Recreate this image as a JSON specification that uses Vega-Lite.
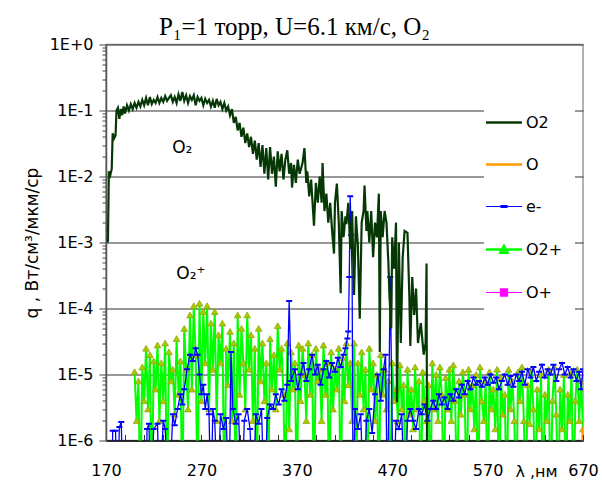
{
"$schema": "https://vega.github.io/schema/vega-lite/v6.json",
"width": 477, "height": 396,
"autosize": "none",
"padding": {"left": 106, "top": 44.5, "right": 19, "bottom": 40.5},
"background": "white",
"title": {"text": "P₁=1 торр, U=6.1 км/с, O₂", "font": "Liberation Serif", "fontSize": 25, "fontWeight": "normal", "color": "black", "anchor": "middle", "frame": "group", "dx": -50, "dy": 34, "baseline": "alphabetic", "offset": 11},
"config": {"view": {"stroke": "#999999", "strokeWidth": 1.5}},
"encoding": {
  "x": {"field": "x", "type": "quantitative", "scale": {"domain": [170, 670], "nice": false, "zero": false},
    "axis": {"values": [170,190,210,230,250,270,290,310,330,350,370,390,410,430,450,470,490,510,530,550,570,590,610,630,650,670],
      "labelExpr": "(datum.value - 170) % 100 === 0 ? datum.label : ''", "labelOverlap": false, "labelFlush": false,
      "labelFont": "DejaVu Sans", "labelFontSize": 16, "labelColor": "black", "labelPadding": 28,
      "tickSize": -6, "tickColor": "#333", "domainColor": "#111", "domainWidth": 1.5, "grid": false,
      "title": "λ ,нм", "titleFont": "DejaVu Sans", "titleFontSize": 16, "titleFontWeight": "normal", "titleColor": "black",
      "titleX": 430, "titleY": 36, "titleAlign": "center", "titleBaseline": "alphabetic"}},
  "y": {"field": "y", "type": "quantitative", "scale": {"type": "log", "domain": [1e-6, 1], "nice": false},
    "axis": {"values": [1e-6,2e-6,3e-6,4e-6,5e-6,6e-6,7e-6,8e-6,9e-6,1e-5,2e-5,3e-5,4e-5,5e-5,6e-5,7e-5,8e-5,9e-5,1e-4,2e-4,3e-4,4e-4,5e-4,6e-4,7e-4,8e-4,9e-4,1e-3,2e-3,3e-3,4e-3,5e-3,6e-3,7e-3,8e-3,9e-3,1e-2,2e-2,3e-2,4e-2,5e-2,6e-2,7e-2,8e-2,9e-2,1e-1,2e-1,3e-1,4e-1,5e-1,6e-1,7e-1,8e-1,9e-1,1],
      "labelExpr": "abs(log(datum.value)/LN10 - round(log(datum.value)/LN10)) < 0.001 ? '1E' + (round(log(datum.value)/LN10) >= 0 ? '+' : '') + round(log(datum.value)/LN10) : ''",
      "labelOverlap": false, "labelFlush": false,
      "labelFont": "DejaVu Sans", "labelFontSize": 16, "labelColor": "black", "labelPadding": 6,
      "tickSize": {"condition": {"test": "abs(log(datum.value)/LN10 - round(log(datum.value)/LN10)) < 0.001", "value": 7}, "value": 4},
      "tickColor": "#444", "domainColor": "#555", "domainWidth": 1.5,
      "grid": true, "gridColor": "#333", "gridWidth": 1.2,
      "gridOpacity": {"condition": {"test": "abs(log(datum.value)/LN10 - round(log(datum.value)/LN10)) < 0.001", "value": 1}, "value": 0},
      "title": "q , Вт/см³/мкм/ср", "titleFont": "DejaVu Sans", "titleFontSize": 17, "titleFontWeight": "normal", "titleColor": "black", "titlePadding": 8}}
},
"layer": [
  {"data": {"values": [
    {"x":200,"y":1.1e-5},{"x":202,"y":2e-6},{"x":204,"y":8e-6},{"x":206,"y":1e-7},{"x":208,"y":1.3e-5},{"x":210,"y":4e-6},{"x":212,"y":2.5e-5},{"x":214,"y":3e-6},{"x":216,"y":2e-5},{"x":218,"y":1e-7},
    {"x":220,"y":1.6e-5},{"x":222,"y":6e-6},{"x":224,"y":2.8e-5},{"x":226,"y":2e-6},{"x":228,"y":1.5e-5},{"x":230,"y":4e-6},{"x":232,"y":3e-5},{"x":234,"y":1e-7},{"x":236,"y":2.2e-5},{"x":238,"y":8e-6},
    {"x":240,"y":1.2e-5},{"x":242,"y":2.5e-6},{"x":244,"y":3.5e-5},{"x":246,"y":5e-6},{"x":248,"y":1.6e-5},{"x":250,"y":1e-7},{"x":252,"y":5e-5},{"x":254,"y":1.2e-5},{"x":256,"y":3e-6},{"x":258,"y":8e-5},
    {"x":260,"y":6e-6},{"x":262,"y":1.1e-4},{"x":264,"y":2e-5},{"x":266,"y":1e-7},{"x":268,"y":1.2e-4},{"x":270,"y":4e-6},{"x":272,"y":9e-5},{"x":274,"y":1.5e-5},{"x":276,"y":1.1e-4},{"x":278,"y":3e-6},
    {"x":280,"y":6e-5},{"x":282,"y":1.2e-5},{"x":284,"y":9e-5},{"x":286,"y":2e-6},{"x":288,"y":4e-5},{"x":290,"y":1.5e-5},{"x":292,"y":6e-5},{"x":294,"y":1e-7},{"x":296,"y":2.5e-5},{"x":298,"y":7e-6},
    {"x":300,"y":4.5e-5},{"x":302,"y":2e-6},{"x":304,"y":3e-5},{"x":306,"y":1e-7},{"x":308,"y":8e-5},{"x":310,"y":5e-6},{"x":312,"y":5e-5},{"x":314,"y":1.5e-5},{"x":316,"y":3e-6},{"x":318,"y":8e-5},
    {"x":320,"y":1.2e-5},{"x":322,"y":4e-5},{"x":324,"y":2e-6},{"x":326,"y":2.5e-5},{"x":328,"y":1e-7},{"x":330,"y":5e-5},{"x":332,"y":8e-6},{"x":334,"y":3e-5},{"x":336,"y":4e-6},{"x":338,"y":1.5e-5},
    {"x":340,"y":1e-7},{"x":342,"y":3.5e-5},{"x":344,"y":6e-6},{"x":346,"y":2e-5},{"x":348,"y":3e-6},{"x":350,"y":5.5e-5},{"x":352,"y":1.2e-5},{"x":354,"y":2.5e-5},{"x":356,"y":5e-6},{"x":358,"y":1e-7},
    {"x":360,"y":3e-5},{"x":362,"y":1.5e-6},{"x":364,"y":2.2e-5},{"x":366,"y":6e-6},{"x":368,"y":1.5e-5},{"x":370,"y":1e-7},{"x":372,"y":2.8e-5},{"x":374,"y":4e-6},{"x":376,"y":2.5e-5},{"x":378,"y":1e-5},
    {"x":380,"y":2e-6},{"x":382,"y":3e-5},{"x":384,"y":5e-6},{"x":386,"y":2e-5},{"x":388,"y":1e-7},{"x":390,"y":2.5e-5},{"x":392,"y":8e-6},{"x":394,"y":1.2e-5},{"x":396,"y":2e-6},{"x":398,"y":2.8e-5},
    {"x":400,"y":5e-6},{"x":402,"y":1.5e-5},{"x":404,"y":1e-7},{"x":406,"y":2.2e-5},{"x":408,"y":3e-6},{"x":410,"y":1.2e-5},{"x":412,"y":6e-6},{"x":414,"y":2.5e-5},{"x":416,"y":1e-7},{"x":418,"y":1.8e-5},
    {"x":420,"y":4e-6},{"x":422,"y":3e-5},{"x":424,"y":7e-6},{"x":426,"y":1.5e-5},{"x":428,"y":2e-6},{"x":430,"y":3e-5},{"x":432,"y":1e-7},{"x":434,"y":1.5e-5},{"x":436,"y":5e-6},{"x":438,"y":2.2e-5},
    {"x":440,"y":3e-6},{"x":442,"y":1.2e-5},{"x":444,"y":1e-7},{"x":446,"y":2.5e-5},{"x":448,"y":6e-6},{"x":450,"y":1.5e-5},{"x":452,"y":2e-6},{"x":454,"y":1e-5},{"x":456,"y":1e-7},{"x":458,"y":2e-5},
    {"x":460,"y":5e-6},{"x":462,"y":1.2e-5},{"x":464,"y":3e-6},{"x":466,"y":8e-6},{"x":468,"y":1e-7},{"x":470,"y":1.5e-5},{"x":472,"y":4e-6},{"x":474,"y":6e-6},{"x":476,"y":2e-6},{"x":478,"y":1.4e-5},
    {"x":480,"y":3e-6},{"x":482,"y":7e-6},{"x":484,"y":1e-7},{"x":486,"y":1.2e-5},{"x":488,"y":2.5e-6},{"x":490,"y":6e-6},{"x":492,"y":1.5e-6},{"x":494,"y":1.3e-5},{"x":496,"y":3e-6},{"x":498,"y":8e-6},
    {"x":500,"y":1e-7},{"x":502,"y":1.1e-5},{"x":504,"y":4e-6},{"x":506,"y":2e-6},{"x":508,"y":7e-6},{"x":510,"y":1e-7},{"x":512,"y":1.5e-5},{"x":514,"y":3e-6},{"x":516,"y":1e-5},{"x":518,"y":2e-6},
    {"x":520,"y":1.3e-5},{"x":522,"y":5e-6},{"x":524,"y":1e-7},{"x":526,"y":9e-6},{"x":528,"y":3e-6},{"x":530,"y":1.2e-5},{"x":532,"y":2e-6},{"x":534,"y":1.4e-5},{"x":536,"y":4e-6},{"x":538,"y":1e-7},
    {"x":540,"y":8e-6},{"x":542,"y":2.5e-6},{"x":544,"y":1.1e-5},{"x":546,"y":5e-6},{"x":548,"y":1e-7},{"x":550,"y":1.2e-5},{"x":552,"y":3e-6},{"x":554,"y":7e-6},{"x":556,"y":1.5e-6},{"x":558,"y":1e-5},
    {"x":560,"y":1e-7},{"x":562,"y":1.3e-5},{"x":564,"y":4e-6},{"x":566,"y":2e-6},{"x":568,"y":8e-6},{"x":570,"y":1e-7},{"x":572,"y":1.1e-5},{"x":574,"y":3e-6},{"x":576,"y":6e-6},{"x":578,"y":1.5e-6},
    {"x":580,"y":1.2e-5},{"x":582,"y":1e-7},{"x":584,"y":9e-6},{"x":586,"y":2.5e-6},{"x":588,"y":5e-6},{"x":590,"y":1e-7},{"x":592,"y":1.2e-5},{"x":594,"y":3e-6},{"x":596,"y":8e-6},{"x":598,"y":2e-6},
    {"x":600,"y":1e-7},{"x":602,"y":1.1e-5},{"x":604,"y":4e-6},{"x":606,"y":1.3e-5},{"x":608,"y":2e-6},{"x":610,"y":1e-7},{"x":612,"y":7e-6},{"x":614,"y":1.8e-6},{"x":616,"y":1.2e-5},{"x":618,"y":3e-6},
    {"x":620,"y":1e-7},{"x":622,"y":6e-6},{"x":624,"y":1.5e-6},{"x":626,"y":1e-5},{"x":628,"y":1e-7},{"x":630,"y":5e-6},{"x":632,"y":2e-6},{"x":634,"y":1.2e-5},{"x":636,"y":1e-7},{"x":638,"y":4e-6},
    {"x":640,"y":1.3e-5},{"x":642,"y":2.5e-6},{"x":644,"y":1e-7},{"x":646,"y":6e-6},{"x":648,"y":1.5e-6},{"x":650,"y":1e-5},{"x":652,"y":1e-7},{"x":654,"y":5e-6},{"x":656,"y":2e-6},{"x":658,"y":1.1e-5},
    {"x":660,"y":1e-7},{"x":662,"y":4e-6},{"x":664,"y":1.2e-5},{"x":666,"y":2e-6},{"x":668,"y":8e-6},{"x":670,"y":1.5e-6}
  ]},
   "layer": [
     {"mark": {"type": "line", "clip": true, "strokeWidth": 2, "color": "#00ff00"},
      "encoding": {"color": {"datum": "O2+"}}},
     {"mark": {"type": "point", "clip": true, "shape": "triangle-up", "filled": true, "fill": "#a6cc00", "stroke": "#8f9f00", "strokeWidth": 0.7, "size": 45, "opacity": 1}}
   ]},
  {"data": {"values": [
    {"x":176,"y":1e-7},{"x":177,"y":1.4e-6},{"x":180,"y":1.4e-6},{"x":182,"y":1e-7},{"x":184,"y":1.6e-6},{"x":186,"y":1.9e-6},{"x":188,"y":1e-7},
    {"x":212,"y":1e-7},{"x":213,"y":1.5e-6},{"x":215,"y":1.8e-6},{"x":217,"y":1e-7},{"x":220,"y":1.5e-6},{"x":224,"y":1.8e-6},{"x":226,"y":1e-7},{"x":230,"y":2e-6},{"x":232,"y":1.5e-6},
    {"x":236,"y":1e-7},{"x":240,"y":2.5e-6},{"x":242,"y":1.7e-6},{"x":245,"y":3e-6},{"x":248,"y":5e-6},{"x":250,"y":3.5e-6},{"x":252,"y":6e-6},
    {"x":255,"y":1.2e-5},{"x":258,"y":2e-5},{"x":261,"y":1.6e-5},{"x":264,"y":2.5e-5},{"x":266,"y":2e-5},{"x":268,"y":1e-5},{"x":270,"y":5e-6},{"x":272,"y":7e-6},{"x":274,"y":3e-6},{"x":276,"y":5e-6},{"x":278,"y":2.5e-6},{"x":280,"y":1e-7},{"x":282,"y":3e-6},
    {"x":284,"y":2e-6},{"x":287,"y":1e-7},{"x":290,"y":2.5e-6},{"x":293,"y":1.5e-6},{"x":296,"y":2.2e-6},{"x":299,"y":1e-7},{"x":301,"y":2.2e-5},{"x":303,"y":3e-6},
    {"x":306,"y":1.8e-6},{"x":309,"y":2.5e-6},{"x":312,"y":1e-7},{"x":315,"y":2e-6},{"x":318,"y":3e-6},{"x":321,"y":1.5e-6},{"x":324,"y":1e-7},{"x":327,"y":2.5e-6},{"x":330,"y":1.8e-6},{"x":333,"y":3e-6},{"x":336,"y":1e-7},{"x":339,"y":2.2e-6},{"x":342,"y":3.5e-6},
    {"x":345,"y":3e-6},{"x":348,"y":5e-6},{"x":351,"y":3.5e-6},{"x":354,"y":6e-6},{"x":357,"y":4e-6},{"x":360,"y":7e-6},{"x":362,"y":1.3e-4},{"x":364,"y":8e-6},
    {"x":368,"y":1.2e-5},{"x":371,"y":6e-6},{"x":374,"y":1e-5},{"x":377,"y":1.5e-5},{"x":380,"y":8e-6},{"x":383,"y":1.2e-5},{"x":386,"y":2e-5},{"x":389,"y":1e-5},{"x":392,"y":1.4e-5},{"x":395,"y":7e-6},
    {"x":398,"y":1.2e-5},{"x":401,"y":1.6e-5},{"x":404,"y":9e-6},{"x":407,"y":1.5e-5},{"x":410,"y":1.1e-5},{"x":413,"y":1.8e-5},{"x":416,"y":1.3e-5},{"x":419,"y":2e-5},{"x":421,"y":2.5e-5},{"x":423,"y":3.5e-5},{"x":424,"y":4.5e-5},
    {"x":425,"y":3e-4},{"x":426,"y":5e-3},{"x":427,"y":1.3e-3},{"x":428,"y":3e-4},{"x":429,"y":1e-7},
    {"x":431,"y":3e-6},{"x":434,"y":1.5e-6},{"x":437,"y":2.5e-6},{"x":440,"y":1e-7},{"x":443,"y":2e-6},{"x":446,"y":3e-6},{"x":449,"y":1.3e-6},
    {"x":452,"y":5e-6},{"x":455,"y":1e-5},{"x":458,"y":4e-6},{"x":461,"y":1.2e-5},{"x":463,"y":2e-5},{"x":465,"y":1e-7},{"x":468,"y":3e-4},{"x":471,"y":1e-7},
    {"x":474,"y":2e-6},{"x":477,"y":1.5e-6},{"x":480,"y":2.5e-6},{"x":483,"y":1e-7},{"x":486,"y":2e-6},{"x":489,"y":3e-6},{"x":492,"y":2e-6},{"x":495,"y":1.5e-6},{"x":498,"y":3e-6},{"x":501,"y":2.5e-6},{"x":504,"y":3.5e-6},{"x":507,"y":2e-6},{"x":510,"y":3e-6},
    {"x":513,"y":4e-6},{"x":516,"y":3e-6},{"x":519,"y":5e-6},{"x":522,"y":3.5e-6},{"x":525,"y":4.5e-6},{"x":528,"y":3e-6},{"x":531,"y":5e-6},{"x":534,"y":4e-6},{"x":537,"y":6e-6},{"x":540,"y":4.5e-6},{"x":543,"y":7e-6},{"x":546,"y":5e-6},{"x":549,"y":8e-6},{"x":552,"y":6e-6},{"x":555,"y":9e-6},{"x":558,"y":7e-6},
    {"x":561,"y":8e-6},{"x":564,"y":6.5e-6},{"x":567,"y":9e-6},{"x":570,"y":7e-6},{"x":573,"y":1e-5},{"x":576,"y":7.5e-6},{"x":579,"y":9e-6},{"x":582,"y":6e-6},{"x":585,"y":8e-6},{"x":588,"y":1e-5},{"x":591,"y":7e-6},{"x":594,"y":9.5e-6},{"x":597,"y":6.5e-6},{"x":600,"y":1e-5},
    {"x":603,"y":8e-6},{"x":606,"y":1.1e-5},{"x":609,"y":7e-6},{"x":612,"y":1.2e-5},{"x":615,"y":9e-6},{"x":618,"y":1.3e-5},{"x":621,"y":8e-6},{"x":624,"y":1.1e-5},{"x":627,"y":1.4e-5},{"x":630,"y":9e-6},{"x":633,"y":1.2e-5},{"x":636,"y":1e-5},{"x":639,"y":1.4e-5},{"x":642,"y":8e-6},{"x":645,"y":1.2e-5},{"x":648,"y":1.5e-5},{"x":651,"y":1e-5},{"x":654,"y":1.3e-5},{"x":657,"y":9e-6},{"x":660,"y":1.2e-5},{"x":663,"y":8e-6},{"x":666,"y":1.1e-5},{"x":668,"y":6e-6},{"x":670,"y":1.2e-5}
  ]},
   "layer": [
     {"mark": {"type": "line", "clip": true, "strokeWidth": 1.3, "color": "#0000ff"},
      "encoding": {"color": {"datum": "e-"}}},
     {"mark": {"type": "point", "clip": true, "shape": "M-1,0H1", "filled": false, "stroke": "#0000ff", "strokeWidth": 2, "size": 36, "opacity": 1}}
   ]},
  {"data": {"values": [
    {"x":172,"y":1e-3},{"x":173,"y":1.2e-2},{"x":174.5,"y":1.05e-2},{"x":176,"y":1.3e-2},{"x":177,"y":4.5e-2},{"x":178.5,"y":3.8e-2},{"x":180,"y":4.2e-2},{"x":181,"y":1.0e-1},{"x":182.5,"y":1.1e-1},{"x":184,"y":7.5e-2},
    {"x":185.5,"y":1.05e-1},{"x":187,"y":8.5e-2},{"x":188.5,"y":1.15e-1},{"x":190,"y":9e-2},{"x":192,"y":1.2e-1},{"x":194,"y":1.0e-1},{"x":196,"y":1.25e-1},{"x":198,"y":1.05e-1},{"x":200,"y":1.3e-1},{"x":202,"y":1.1e-1},
    {"x":204,"y":1.35e-1},{"x":206,"y":1.15e-1},{"x":208,"y":1.45e-1},{"x":210,"y":1.2e-1},{"x":212,"y":1.55e-1},{"x":214,"y":1.2e-1},{"x":216,"y":1.6e-1},{"x":218,"y":1.25e-1},{"x":220,"y":1.45e-1},{"x":222,"y":1.3e-1},
    {"x":224,"y":1.6e-1},{"x":226,"y":1.3e-1},{"x":228,"y":1.55e-1},{"x":230,"y":1.35e-1},{"x":232,"y":1.65e-1},{"x":234,"y":1.4e-1},{"x":236,"y":1.55e-1},{"x":238,"y":1.7e-1},{"x":240,"y":1.35e-1},{"x":242,"y":1.6e-1},
    {"x":244,"y":1.3e-1},{"x":246,"y":1.75e-1},{"x":248,"y":1.4e-1},{"x":250,"y":1.9e-1},{"x":252,"y":1.4e-1},{"x":254,"y":1.7e-1},{"x":256,"y":1.3e-1},{"x":258,"y":1.65e-1},{"x":260,"y":1.45e-1},{"x":262,"y":1.7e-1},
    {"x":264,"y":1.2e-1},{"x":266,"y":1.6e-1},{"x":268,"y":1.4e-1},{"x":270,"y":1.55e-1},{"x":272,"y":1.2e-1},{"x":274,"y":1.5e-1},{"x":276,"y":1.3e-1},{"x":278,"y":1.45e-1},{"x":280,"y":1.15e-1},{"x":282,"y":1.4e-1},
    {"x":284,"y":1.1e-1},{"x":286,"y":1.5e-1},{"x":288,"y":1.2e-1},{"x":290,"y":1.35e-1},{"x":292,"y":1.05e-1},{"x":294,"y":1.3e-1},{"x":296,"y":1.0e-1},{"x":298,"y":1.15e-1},{"x":300,"y":8.5e-2},{"x":302,"y":1.05e-1},
    {"x":304,"y":6.5e-2},{"x":306,"y":8e-2},{"x":308,"y":5e-2},{"x":310,"y":6.5e-2},{"x":312,"y":4e-2},{"x":314,"y":5.5e-2},{"x":316,"y":3.2e-2},{"x":318,"y":4.5e-2},{"x":320,"y":2.8e-2},{"x":322,"y":4e-2},
    {"x":324,"y":2.2e-2},{"x":326,"y":3.5e-2},{"x":328,"y":1.8e-2},{"x":330,"y":3.2e-2},{"x":332,"y":1.4e-2},{"x":334,"y":3e-2},{"x":336,"y":1.1e-2},{"x":338,"y":2.7e-2},{"x":340,"y":9e-3},{"x":342,"y":2.8e-2},
    {"x":344,"y":1.1e-2},{"x":346,"y":2e-2},{"x":348,"y":7e-3},{"x":350,"y":2.4e-2},{"x":352,"y":1.2e-2},{"x":354,"y":2.2e-2},{"x":356,"y":9e-3},{"x":358,"y":1.8e-2},{"x":360,"y":2.5e-2},{"x":362,"y":1.1e-2},
    {"x":364,"y":1.6e-2},{"x":365,"y":6.8e-3},{"x":367,"y":1.5e-2},{"x":369,"y":8e-3},{"x":371,"y":1.8e-2},{"x":373,"y":1.1e-2},{"x":376,"y":1.6e-2},{"x":378,"y":2.7e-2},{"x":380,"y":8e-3},{"x":381,"y":1.2e-2},
    {"x":383,"y":5e-3},{"x":385,"y":9e-3},{"x":388,"y":1.8e-3},{"x":390,"y":8e-3},{"x":392,"y":4e-3},{"x":394,"y":1.0e-2},{"x":396,"y":4e-3},{"x":397,"y":1.6e-2},{"x":399,"y":3e-3},{"x":401,"y":5.5e-3},
    {"x":403,"y":2e-3},{"x":405,"y":4e-3},{"x":407,"y":1.5e-3},{"x":409,"y":6.8e-4},{"x":410,"y":4e-3},{"x":412,"y":7.8e-3},{"x":414,"y":2e-3},{"x":416,"y":1.7e-4},{"x":417,"y":3e-3},{"x":419,"y":1.2e-3},
    {"x":421,"y":2.5e-3},{"x":422,"y":1.9e-3},{"x":424,"y":4e-3},{"x":426,"y":8e-4},{"x":428,"y":3e-3},{"x":430,"y":1.6e-4},{"x":432,"y":2.5e-3},{"x":434,"y":9e-4},{"x":436,"y":7e-5},{"x":438,"y":2e-3},
    {"x":440,"y":3e-3},{"x":441,"y":7.3e-3},{"x":443,"y":1.5e-3},{"x":444,"y":3e-3},{"x":446,"y":1e-3},{"x":448,"y":3e-3},{"x":450,"y":6e-4},{"x":452,"y":2e-3},{"x":454,"y":1.2e-3},{"x":456,"y":5.5e-3},
    {"x":457,"y":2.2e-5},{"x":458,"y":3e-3},{"x":460,"y":1.2e-3},{"x":462,"y":3e-3},{"x":464,"y":2e-3},{"x":466,"y":5e-4},{"x":467,"y":1.7e-4},{"x":469,"y":5e-5},{"x":470,"y":1.2e-3},{"x":472,"y":4e-4},
    {"x":474,"y":2e-3},{"x":475,"y":3.8e-6},{"x":477,"y":1e-3},{"x":479,"y":3e-5},{"x":481,"y":6e-4},{"x":483,"y":1.5e-3},{"x":486,"y":1.4e-3},{"x":488,"y":1.5e-4},{"x":489,"y":2.7e-5},{"x":491,"y":3e-4},
    {"x":493,"y":8e-5},{"x":495,"y":2e-4},{"x":497,"y":3e-5},{"x":500,"y":6e-5},{"x":503,"y":2e-5},{"x":505,"y":3e-5},{"x":506,"y":4.8e-4},{"x":507,"y":1e-9}
  ]},
   "mark": {"type": "line", "clip": true, "strokeWidth": 2.2, "color": "#063806"},
   "encoding": {"color": {"datum": "O2", "scale": {"domain": ["O2", "O", "e-", "O2+", "O+"], "range": ["#063806", "#ff9900", "#0000ff", "#00ff00", "#ff00ff"]},
     "legend": {"title": null, "orient": "none", "legendX": 378, "legendY": 58, "padding": 12, "fillColor": "white", "strokeColor": null,
       "symbolSize": 1750, "symbolType": "stroke", "rowPadding": 26, "labelOffset": 14, "labelFont": "DejaVu Sans", "labelFontSize": 16, "labelColor": "black",
       "encode": {"symbols": {"update": {
         "shape": {"signal": "datum.value === 'O2+' ? 'M-0.86,0H0.86M-0.17,0.15L0,-0.17L0.17,0.15Z' : datum.value === 'O+' ? 'M-0.86,0H0.86M-0.17,-0.17H0.17V0.17H-0.17Z' : datum.value === 'e-' ? 'M-0.86,0H0.86M-0.14,-0.045H0.14V0.045H-0.14Z' : 'M-0.86,0H0.86'"},
         "fill": {"signal": "datum.value === 'O2+' ? '#a6cc00' : datum.value === 'O+' ? '#ff00ff' : datum.value === 'e-' ? '#0000ff' : 'transparent'"},
         "stroke": {"signal": "datum.value === 'O2' ? '#063806' : datum.value === 'O' ? '#ff9900' : datum.value === 'e-' ? '#0000ff' : datum.value === 'O2+' ? '#00ff00' : '#ff00ff'"},
         "strokeWidth": {"signal": "datum.value === 'e-' || datum.value === 'O+' ? 1.2 : 2.5"},
         "opacity": {"value": 1}}}}}}}},
  {"data": {"values": [{"x":668.5,"y":1e-8},{"x":670,"y":1.6e-6}]},
   "mark": {"type": "line", "clip": true, "strokeWidth": 3, "color": "#ff9900"},
   "encoding": {"color": {"datum": "O"}}},
  {"data": {"values": [{"x":150,"y":1e-8},{"x":160,"y":1e-8}]},
   "mark": {"type": "line", "clip": true, "strokeWidth": 1, "color": "#ff00ff"},
   "encoding": {"color": {"datum": "O+"}}},
  {"data": {"values": [{"x":250,"y":0.0275,"t":"O₂"},{"x":259,"y":3.3e-4,"t":"O₂⁺"}]},
   "mark": {"type": "text", "font": "DejaVu Sans", "fontSize": 17, "color": "black", "align": "center", "baseline": "middle"},
   "encoding": {"text": {"field": "t", "type": "nominal"}}}
]
}
